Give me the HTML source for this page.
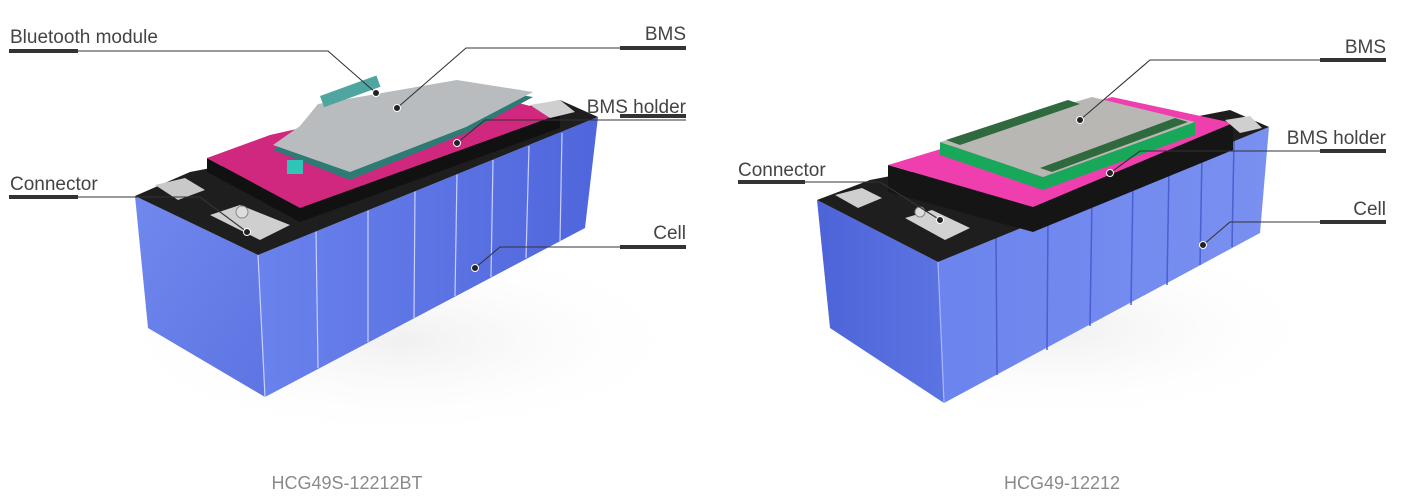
<!DOCTYPE html>
<html><head><meta charset="utf-8"><style>
html,body{margin:0;padding:0;background:#fff;}
svg{display:block;}
text{font-family:"Liberation Sans",sans-serif;}
</style></head><body>
<svg width="1403" height="500" viewBox="0 0 1403 500" xmlns="http://www.w3.org/2000/svg">
<defs>
<linearGradient id="fr" x1="0" y1="0" x2="1" y2="1"><stop offset="0" stop-color="#7088ee"/><stop offset="1" stop-color="#5d74e2"/></linearGradient>
<linearGradient id="sd" x1="0" y1="0" x2="1" y2="0"><stop offset="0" stop-color="#6a82ec"/><stop offset="1" stop-color="#4f66dc"/></linearGradient>
<linearGradient id="fr2" x1="0" y1="0" x2="1" y2="0"><stop offset="0" stop-color="#4c64d8"/><stop offset="1" stop-color="#5c74e2"/></linearGradient>
<linearGradient id="sd2" x1="0" y1="0" x2="1" y2="0"><stop offset="0" stop-color="#6b84ee"/><stop offset="1" stop-color="#7a90f0"/></linearGradient>
<radialGradient id="sh"><stop offset="0" stop-color="#f0f0f0"/><stop offset="1" stop-color="#fff" stop-opacity="0"/></radialGradient>
</defs>

<!-- LEFT BATTERY -->
<ellipse cx="400" cy="340" rx="300" ry="100" fill="url(#sh)"/>
<polygon points="135,196 258,255 265,397 148,328" fill="url(#fr)"/>
<polygon points="258,255 598,117 585,228 265,397" fill="url(#sd)"/>
<g stroke="#c8d0ff" stroke-width="1.2">
<line x1="258" y1="255" x2="265" y2="397"/>
<line x1="316" y1="231" x2="318" y2="368"/><line x1="368" y1="210" x2="368" y2="342"/>
<line x1="415" y1="191" x2="414" y2="318"/><line x1="457" y1="174" x2="455" y2="296"/>
<line x1="493" y1="160" x2="491" y2="277"/><line x1="529" y1="146" x2="526" y2="258"/>
<line x1="562" y1="133" x2="560" y2="241"/></g>
<polygon points="135,196 258,255 598,117 560,100 190,172" fill="#1e1e1e"/>
<!-- holder -->
<polygon points="207,158 207,172 300,222 560,128 560,114 300,208" fill="#111"/>
<polygon points="207,158 300,208 560,114 470,90 270,135" fill="#d0287e"/>
<!-- BMS -->
<polygon points="273,150 350,180 466,133 533,97 457,85 318,108 300,130" fill="#2e7a74"/>
<polygon points="273,145 350,172 466,127 533,92 457,80 318,104 300,126" fill="#b9bcbf"/>
<rect x="320" y="96" width="60" height="12" fill="#4fa6a0" transform="rotate(-20 320 96)"/>
<rect x="287" y="160" width="16" height="14" fill="#2fc4b8"/>
<!-- connectors -->
<polygon points="155,185 185,178 205,190 178,200" fill="#c9c9c9"/>
<polygon points="210,215 240,205 290,225 260,240" fill="#cfcfcf"/>
<circle cx="242" cy="212" r="6" fill="#ddd" stroke="#888"/>
<polygon points="530,105 560,100 575,112 550,118" fill="#cfcfcf"/>

<!-- RIGHT BATTERY -->
<ellipse cx="1060" cy="330" rx="270" ry="95" fill="url(#sh)"/>
<polygon points="817,200 938,262 944,403 830,328" fill="url(#fr2)"/>
<polygon points="938,262 1269,127 1260,233 944,403" fill="url(#sd2)"/>
<g stroke="#4a5fd0" stroke-width="1.5">
<line x1="996" y1="238" x2="997" y2="375"/><line x1="1048" y1="217" x2="1047" y2="350"/>
<line x1="1092" y1="199" x2="1090" y2="326"/><line x1="1133" y1="182" x2="1131" y2="305"/>
<line x1="1169" y1="168" x2="1167" y2="285"/><line x1="1202" y1="154" x2="1200" y2="265"/>
<line x1="1234" y1="141" x2="1232" y2="247"/></g>
<line x1="938" y1="262" x2="944" y2="403" stroke="#aab8ff" stroke-width="1.2"/>
<polygon points="817,200 938,262 1269,127 1230,110 870,180" fill="#1e1e1e"/>
<polygon points="888,165 888,192 1033,232 1233,150 1233,123 1033,207" fill="#151515"/>
<polygon points="888,165 1033,207 1233,123 1112,97" fill="#ef3fae"/>
<polygon points="940,142 940,155 1043,190 1195,135 1195,122 1043,177" fill="#17a85a"/>
<polygon points="940,142 1043,177 1195,122 1092,97" fill="#b9b7b3"/>
<polygon points="946,140 960,145 1080,104 1068,100" fill="#2f6a3e"/>
<polygon points="1040,168 1052,172 1188,122 1175,118" fill="#2f6a3e"/>
<polygon points="835,195 862,188 882,198 858,208" fill="#cfcfcf"/>
<polygon points="905,218 932,210 970,228 945,240" fill="#d2d2d2"/>
<circle cx="920" cy="212" r="5" fill="#ddd" stroke="#888"/>
<polygon points="1225,120 1250,116 1262,128 1240,133" fill="#cfcfcf"/>

<!-- LABELS / LEADERS -->
<g fill="#444" font-size="19">
<text x="10" y="43">Bluetooth module</text>
<text x="686" y="40" text-anchor="end">BMS</text>
<text x="686" y="113" text-anchor="end">BMS holder</text>
<text x="10" y="190">Connector</text>
<text x="686" y="239" text-anchor="end">Cell</text>
<text x="1386" y="53" text-anchor="end">BMS</text>
<text x="1386" y="144" text-anchor="end">BMS holder</text>
<text x="738" y="176">Connector</text>
<text x="1386" y="215" text-anchor="end">Cell</text>
</g>
<g stroke="#333" stroke-width="4">
<line x1="9" y1="51" x2="78" y2="51"/><line x1="620" y1="48" x2="686" y2="48"/>
<line x1="620" y1="116" x2="686" y2="116"/><line x1="9" y1="197" x2="78" y2="197"/>
<line x1="620" y1="247" x2="686" y2="247"/>
<line x1="1320" y1="60" x2="1386" y2="60"/><line x1="1320" y1="151" x2="1386" y2="151"/>
<line x1="738" y1="182" x2="805" y2="182"/><line x1="1320" y1="222" x2="1386" y2="222"/>
</g>
<g stroke="#333" stroke-width="1.1" fill="none">
<polyline points="78,51 328,51 376,93"/>
<polyline points="620,48 466,48 397,108"/>
<polyline points="686,120 485,120 457,143"/>
<polyline points="78,197 200,197 247,232"/>
<polyline points="620,247 500,247 475,268"/>
<polyline points="1320,60 1150,60 1080,120"/>
<polyline points="1320,151 1140,151 1110,173"/>
<polyline points="805,182 880,182 940,220"/>
<polyline points="1320,222 1230,222 1203,245"/>
</g>
<g fill="#222" stroke="#fff" stroke-width="1">
<circle cx="376" cy="93" r="3.5"/><circle cx="397" cy="108" r="3.5"/><circle cx="457" cy="143" r="3.5"/>
<circle cx="247" cy="232" r="3.5"/><circle cx="475" cy="268" r="3.5"/>
<circle cx="1080" cy="120" r="3.5"/><circle cx="1110" cy="173" r="3.5"/><circle cx="940" cy="220" r="3.5"/><circle cx="1203" cy="245" r="3.5"/>
</g>
<g fill="#8a8a8a" font-size="18" text-anchor="middle">
<text x="347" y="489">HCG49S-12212BT</text>
<text x="1062" y="489">HCG49-12212</text>
</g>
</svg>
</body></html>
